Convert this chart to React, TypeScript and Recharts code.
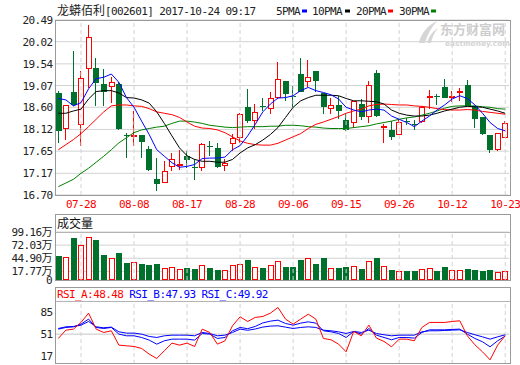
import { ComposedChart, Bar, Line, XAxis, YAxis, CartesianGrid, ReferenceLine } from 'recharts';

const dates = [
  '07-25', '07-26', '07-27', '07-28', '07-31', '08-01', '08-02', '08-03', '08-04', '08-07',
  '08-08', '08-09', '08-10', '08-11', '08-14', '08-15', '08-16', '08-17', '08-18', '08-21',
  '08-22', '08-23', '08-24', '08-25', '08-28', '08-29', '08-30', '08-31', '09-01', '09-04',
  '09-05', '09-06', '09-07', '09-08', '09-11', '09-12', '09-13', '09-14', '09-15', '09-18',
  '09-19', '09-20', '09-21', '09-22', '09-25', '09-26', '09-27', '09-28', '09-29', '10-09',
  '10-10', '10-11', '10-12', '10-13', '10-16', '10-17', '10-18', '10-19', '10-20', '10-23',
];

const opens = [
  18.91, 18.14, 18.94, 18.22, 19.42, 19.45, 19.10, 19.03, 19.10, 18.00,
  17.98, 17.99, 17.70, 17.04, 16.96, 17.30, 17.35, 17.54, 17.30, 17.28,
  17.76, 17.71, 17.32, 17.81, 17.94, 18.60, 18.30, 18.63, 18.57, 18.81,
  19.17, 18.84, 19.31, 19.14, 19.38, 18.91, 18.57, 18.65, 18.32, 18.27,
  18.68, 18.38, 19.34, 18.18, 18.11, 18.00, 18.31, 18.24, 18.29, 18.82,
  18.85, 19.03, 18.83, 18.94, 19.08, 18.63, 18.38, 18.01, 17.67, 17.94,
];
const highs = [
  18.96, 18.65, 19.81, 19.38, 20.38, 19.67, 19.42, 19.25, 19.14, 18.05,
  18.52, 18.01, 17.76, 17.50, 17.43, 17.60, 17.68, 17.65, 17.47, 17.83,
  17.88, 17.83, 17.47, 18.03, 18.47, 18.99, 18.67, 18.81, 18.92, 19.59,
  19.17, 19.05, 19.67, 19.62, 19.39, 18.91, 18.79, 18.85, 18.45, 18.73,
  18.78, 19.16, 19.41, 18.23, 18.30, 18.34, 18.37, 18.32, 18.63, 18.97,
  18.88, 19.21, 18.96, 19.01, 19.18, 18.63, 18.38, 18.01, 18.05, 18.30,
];
const lows = [
  17.83, 17.90, 18.63, 17.77, 19.01, 18.63, 18.63, 18.70, 18.11, 17.50,
  17.77, 17.50, 17.23, 16.79, 16.96, 17.21, 17.25, 17.28, 17.03, 17.23,
  17.54, 17.28, 17.21, 17.65, 17.83, 18.27, 18.12, 18.52, 18.45, 18.77,
  18.74, 18.61, 18.92, 19.03, 18.92, 18.45, 18.45, 18.34, 18.09, 18.16,
  18.32, 18.27, 18.38, 17.83, 17.90, 18.00, 18.22, 18.10, 18.26, 18.56,
  18.65, 18.79, 18.72, 18.74, 18.62, 18.16, 18.01, 17.61, 17.65, 17.94,
];
const closes = [
  18.09, 18.65, 18.65, 19.23, 20.12, 19.13, 18.94, 19.14, 18.14, 17.99,
  18.00, 17.85, 17.25, 16.93, 17.21, 17.48, 17.37, 17.45, 17.29, 17.81,
  17.75, 17.30, 17.39, 17.94, 18.45, 18.30, 18.49, 18.61, 18.79, 19.22,
  18.89, 18.82, 18.94, 19.25, 19.16, 18.60, 18.65, 18.51, 18.11, 18.73,
  18.38, 19.09, 18.41, 18.19, 17.96, 18.29, 18.29, 18.22, 18.61, 18.84,
  18.83, 18.79, 18.85, 18.96, 18.63, 18.34, 18.03, 17.68, 18.05, 18.27,
];

// 成交量, 万股
const volumes = [
  49.6, 46.8, 86.8, 71.6, 88.2, 82.6, 51.7, 44.8, 55.8, 35.1,
  36.5, 33.1, 31.0, 33.1, 24.1, 26.2, 22.0, 24.8, 22.7, 30.3,
  24.8, 20.7, 20.7, 30.3, 33.1, 41.3, 26.2, 24.1, 30.3, 38.6,
  26.9, 26.9, 41.3, 44.8, 33.1, 45.5, 24.1, 24.8, 26.9, 28.2,
  22.7, 38.6, 45.5, 28.2, 20.7, 18.6, 18.6, 18.6, 22.0, 24.1,
  18.6, 26.9, 20.7, 20.7, 22.7, 20.7, 18.6, 20.7, 16.5, 18.6,
];

const ma5 = [
  18.79, 18.76, 18.63, 18.70, 19.00, 19.22, 19.25, 19.32, 19.14, 18.81,
  18.60, 18.30, 18.01, 17.68, 17.54, 17.40, 17.30, 17.32, 17.36, 17.49,
  17.50, 17.50, 17.52, 17.68, 17.77, 17.98, 18.23, 18.50, 18.67, 18.80,
  18.81, 18.85, 18.96, 19.03, 18.96, 18.92, 18.87, 18.78, 18.60, 18.54,
  18.50, 18.54, 18.56, 18.54, 18.41, 18.34, 18.27, 18.18, 18.30, 18.41,
  18.54, 18.65, 18.78, 18.85, 18.79, 18.65, 18.47, 18.27, 18.14, 18.09,
];
const ma10 = [
  18.47, 18.47, 18.52, 18.56, 18.78, 18.94, 18.96, 18.96, 18.91, 18.81,
  18.80, 18.76, 18.69, 18.50, 18.25, 17.98, 17.72, 17.55, 17.47, 17.43,
  17.43, 17.41, 17.41, 17.47, 17.61, 17.72, 17.79, 17.89, 18.01, 18.16,
  18.38, 18.60, 18.74, 18.81, 18.86, 18.86, 18.86, 18.85, 18.79, 18.74,
  18.74, 18.73, 18.72, 18.67, 18.54, 18.47, 18.43, 18.41, 18.41, 18.43,
  18.47, 18.52, 18.56, 18.60, 18.62, 18.61, 18.60, 18.56, 18.52, 18.47,
];
const ma20 = [
  17.68, 17.79, 17.90, 18.03, 18.18, 18.34, 18.50, 18.63, 18.65, 18.65,
  18.63, 18.62, 18.57, 18.50, 18.47, 18.44, 18.38, 18.28, 18.19, 18.15,
  18.14, 18.11, 18.05, 17.96, 17.87, 17.82, 17.79, 17.78, 17.78, 17.82,
  17.89, 17.96, 18.03, 18.14, 18.23, 18.28, 18.34, 18.40, 18.47, 18.52,
  18.56, 18.63, 18.66, 18.67, 18.66, 18.65, 18.65, 18.63, 18.62, 18.60,
  18.57, 18.55, 18.54, 18.54, 18.55, 18.54, 18.51, 18.49, 18.47, 18.45,
];
const ma30 = [
  16.88, 16.96, 17.04, 17.17, 17.28, 17.41, 17.54, 17.68, 17.83, 17.94,
  18.05, 18.11, 18.14, 18.17, 18.19, 18.25, 18.30, 18.30, 18.28, 18.25,
  18.21, 18.19, 18.17, 18.16, 18.17, 18.18, 18.18, 18.18, 18.19, 18.19,
  18.21, 18.21, 18.20, 18.18, 18.17, 18.15, 18.14, 18.14, 18.14, 18.16,
  18.18, 18.20, 18.24, 18.27, 18.30, 18.34, 18.37, 18.39, 18.43, 18.47,
  18.52, 18.58, 18.62, 18.63, 18.63, 18.63, 18.61, 18.60, 18.57, 18.56,
];

const rsiA = [
  44.3, 57.2, 58.8, 69.2, 83.7, 58.8, 53.6, 56.2, 33.9, 32.8,
  31.8, 28.7, 19.9, 13.1, 25.1, 37.0, 33.9, 37.0, 31.8, 58.8,
  53.6, 35.4, 40.6, 64.0, 78.0, 70.7, 77.0, 78.5, 83.7, 92.5,
  74.4, 66.6, 74.4, 82.1, 74.4, 44.3, 42.2, 35.4, 23.5, 55.2,
  48.4, 65.0, 44.8, 39.6, 31.3, 43.2, 43.2, 40.6, 61.4, 69.2,
  69.2, 69.2, 70.7, 71.8, 48.4, 34.4, 23.5, 11.0, 33.9, 48.48,
];
const rsiB = [
  58.8, 61.4, 62.4, 66.6, 74.4, 61.4, 59.8, 61.4, 51.0, 48.4,
  48.4, 45.8, 41.7, 35.4, 40.6, 43.2, 43.2, 43.2, 41.7, 52.0,
  51.0, 44.3, 45.8, 56.2, 61.4, 59.5, 63.0, 68.5, 71.2, 72.8,
  67.6, 65.0, 68.1, 70.2, 68.1, 56.2, 54.6, 52.0, 45.8, 55.2,
  51.0, 59.8, 49.4, 45.8, 42.2, 45.8, 45.8, 44.8, 53.6, 57.7,
  57.7, 57.7, 58.3, 58.8, 51.0, 44.3, 39.1, 31.3, 40.6, 47.93,
];
const rsiC = [
  59.8, 62.4, 62.9, 65.0, 70.7, 62.4, 60.9, 61.9, 54.6, 52.6,
  52.6, 51.0, 47.4, 45.8, 48.4, 49.4, 49.4, 49.4, 48.4, 53.6,
  52.0, 48.4, 49.4, 53.6, 58.8, 57.0, 59.0, 62.0, 63.5, 64.0,
  61.9, 59.8, 61.4, 62.4, 61.4, 57.2, 56.2, 54.6, 52.0, 55.2,
  53.6, 57.2, 52.0, 50.0, 48.4, 49.4, 49.4, 49.4, 54.6, 56.2,
  56.2, 56.7, 57.2, 57.7, 53.6, 50.0, 46.8, 43.2, 46.8, 49.92,
];

const labelDates = ['07-28', '08-08', '08-17', '08-28', '09-06', '09-15', '09-26', '10-12', '10-23'];
const priceTicks = [16.70, 17.17, 17.65, 18.12, 18.60, 19.07, 19.54, 20.02, 20.49];
const volTicks = [0, 17.77, 44.90, 72.03, 99.16];
const rsiTicks = [17, 51, 85];

const UP = '#ff0000';
const DOWN = '#00702d';
const GRID = '#d2d2d2';
const BORDER = '#9a9a9a';
const MONO = "'DejaVu Sans Mono', monospace";
const CJK = "'Noto Sans CJK SC', sans-serif";

const rows = dates.map((date, i) => ({
  date,
  open: opens[i],
  high: highs[i],
  low: lows[i],
  close: closes[i],
  hl: [lows[i], highs[i]],
  up: closes[i] >= opens[i],
  vol: volumes[i],
  ma5: ma5[i],
  ma10: ma10[i],
  ma20: ma20[i],
  ma30: ma30[i],
  rsiA: rsiA[i],
  rsiB: rsiB[i],
  rsiC: rsiC[i],
}));

function renderCandle(props: any) {
  const { x, y, width, height, payload } = props;
  if (!payload || x == null || y == null) return <g />;
  const top = Math.min(y, y + height);
  const bot = Math.max(y, y + height);
  const span = payload.high - payload.low;
  const py = (v: number) => (span > 0 ? top + ((payload.high - v) / span) * (bot - top) : top);
  const bx = Math.round(x + width / 2 - 3);
  const wx = bx + 2.5;
  const yo = py(payload.open);
  const yc = py(payload.close);
  const b0 = Math.round(Math.min(yo, yc));
  const b1 = Math.round(Math.max(yo, yc));
  const color = payload.up ? UP : DOWN;
  const wick = <line x1={wx} x2={wx} y1={Math.round(top)} y2={Math.round(bot)} stroke={color} />;
  if (b1 - b0 < 1) {
    return (
      <g>
        {wick}
        <line x1={bx} x2={bx + 6} y1={b0 + 0.5} y2={b0 + 0.5} stroke={color} />
      </g>
    );
  }
  if (payload.up) {
    return (
      <g>
        {wick}
        <rect x={bx + 0.5} y={b0 + 0.5} width={5} height={Math.max(b1 - b0 - 1, 1)} fill="#fff" stroke={color} />
      </g>
    );
  }
  return (
    <g>
      {wick}
      <rect x={bx} y={b0} width={6} height={b1 - b0} fill={color} />
    </g>
  );
}

function renderVol(props: any) {
  const { x, y, width, height, payload } = props;
  if (!payload || x == null || y == null) return <g />;
  const bx = Math.round(x + width / 2 - 3);
  const t = Math.round(Math.min(y, y + height));
  const b = Math.round(Math.max(y, y + height));
  if (payload.up) {
    return <rect x={bx + 0.5} y={t + 0.5} width={5} height={Math.max(b - t - 1, 1)} fill="#fff" stroke={UP} />;
  }
  return <rect x={bx} y={t} width={6} height={b - t} fill={DOWN} />;
}

function XTick(props: any) {
  const { x, y, payload } = props;
  if (!labelDates.includes(payload.value)) return <g />;
  return (
    <text x={x} y={y + 13} textAnchor="middle" fontFamily={MONO} fontSize={11} letterSpacing={-0.6} fill={UP}>
      {payload.value}
    </text>
  );
}

function PriceTick(props: any) {
  const { x, y, payload } = props;
  return (
    <text x={x} y={y + 4} textAnchor="end" fontFamily={MONO} fontSize={11} letterSpacing={-0.6} fill="#222">
      {Number(payload.value).toFixed(2)}
    </text>
  );
}

function VolTick(props: any) {
  const { x, y, payload } = props;
  const v = Number(payload.value);
  return (
    <text x={x} y={y + 4} textAnchor="end" fill="#222">
      {v === 0 ? (
        <tspan fontFamily={MONO} fontSize={11}>0</tspan>
      ) : (
        <>
          <tspan fontFamily={MONO} fontSize={11} letterSpacing={-0.6}>{v.toFixed(2)}</tspan>
          <tspan fontFamily={CJK} fontSize={11}>万</tspan>
        </>
      )}
    </text>
  );
}

function RsiTick(props: any) {
  const { x, y, payload } = props;
  return (
    <text x={x} y={y + 4} textAnchor="end" fontFamily={MONO} fontSize={11} letterSpacing={-0.6} fill="#222">
      {payload.value}
    </text>
  );
}

const margin = { top: 0, right: 11, bottom: 0, left: 0 };

function vLines() {
  return labelDates.map((d) => (
    <ReferenceLine key={d} x={d} stroke={GRID} strokeDasharray="4 3" />
  ));
}

export default function App() {
  return (
    <div style={{ position: 'absolute', left: 0, top: 0, width: 520, height: 365, background: '#fff', overflow: 'hidden' }}>
      <div style={{ position: 'absolute', left: 0, top: 0 }}>
        <ComposedChart width={520} height={215} data={rows} margin={{ ...margin, top: 20 }}>
          <CartesianGrid vertical={false} stroke={GRID} />
          {vLines()}
          <XAxis dataKey="date" scale="band" interval={0} axisLine={false} tickLine={false} tickSize={0} tickMargin={0} height={20} tick={(p: any) => <XTick {...p} />} />
          <YAxis domain={[16.7, 20.49]} ticks={priceTicks} interval={0} width={54.5} axisLine={false} tickLine={false} tickSize={0} tickMargin={2} allowDataOverflow tick={(p: any) => <PriceTick {...p} />} />
          <Bar dataKey="hl" barSize={6} shape={renderCandle} isAnimationActive={false} />
          <Line type="linear" dataKey="ma30" stroke="#008000" strokeWidth={1} dot={false} activeDot={false} isAnimationActive={false} />
          <Line type="linear" dataKey="ma20" stroke="#ff0000" strokeWidth={1} dot={false} activeDot={false} isAnimationActive={false} />
          <Line type="linear" dataKey="ma10" stroke="#000000" strokeWidth={1} dot={false} activeDot={false} isAnimationActive={false} />
          <Line type="linear" dataKey="ma5" stroke="#0000ff" strokeWidth={1} dot={false} activeDot={false} isAnimationActive={false} />
        </ComposedChart>
      </div>

      <div style={{ position: 'absolute', left: 0, top: 214 }}>
        <ComposedChart width={520} height={72} data={rows} margin={{ ...margin, top: 18, bottom: 6 }}>
          <CartesianGrid vertical={false} stroke={GRID} />
          {vLines()}
          <XAxis dataKey="date" scale="band" hide />
          <YAxis domain={[0, 99.16]} ticks={volTicks} interval={0} width={54.5} axisLine={false} tickLine={false} tickSize={0} tickMargin={2} tick={(p: any) => <VolTick {...p} />} />
          <Bar dataKey="vol" barSize={6} shape={renderVol} isAnimationActive={false} />
        </ComposedChart>
      </div>

      <div style={{ position: 'absolute', left: 0, top: 288 }}>
        <ComposedChart width={520} height={76} data={rows} margin={{ ...margin, top: 13 }}>
          <ReferenceLine y={51} stroke="#c4c4c4" />
          {vLines()}
          <XAxis dataKey="date" scale="band" hide />
          <YAxis domain={[4.5, 102.6]} ticks={rsiTicks} interval={0} width={54.5} axisLine={false} tickLine={false} tickSize={0} tickMargin={2} allowDataOverflow tick={(p: any) => <RsiTick {...p} />} />
          <Line type="linear" dataKey="rsiC" stroke="#0000ff" strokeWidth={1} dot={false} activeDot={false} isAnimationActive={false} />
          <Line type="linear" dataKey="rsiB" stroke="#0000ff" strokeWidth={1} dot={false} activeDot={false} isAnimationActive={false} />
          <Line type="linear" dataKey="rsiA" stroke="#ff0000" strokeWidth={1} dot={false} activeDot={false} isAnimationActive={false} />
        </ComposedChart>
      </div>

      <svg width={520} height={365} style={{ position: 'absolute', left: 0, top: 0, pointerEvents: 'none' }}>
        {/* watermark */}
        <path d="M419 43 C 421 33, 428 25, 437 21 C 431 28, 427 35, 425 43 Z" fill="#d6d6d6" />
        <path d="M427 43 C 429 36, 433 31, 438 28 C 434 33, 432 38, 431 43 Z" fill="#d6d6d6" />
        <text x={440} y={34} fontFamily={CJK} fontSize={13} fontWeight="bold" fill="#cdcdcd">东方财富网</text>
        <text x={445} y={46} fontFamily="'DejaVu Sans', sans-serif" fontSize={7} fontWeight="bold" fill="#d4d4d4" textLength={65} lengthAdjust="spacingAndGlyphs">eastmoney.com</text>

        {/* title */}
        <text x={57} y={15} fill="#222">
          <tspan fontFamily={CJK} fontSize={12}>龙蟒佰利</tspan>
          <tspan fontFamily={MONO} fontSize={11} letterSpacing={-0.6}>[002601] 2017-10-24 09:17</tspan>
        </text>

        {/* legend */}
        <g fontFamily={MONO} fontSize={11} letterSpacing={-0.6} fill="#222">
          <text x={276} y={15}>5PMA</text>
          <text x={312} y={15}>10PMA</text>
          <text x={356} y={15}>20PMA</text>
          <text x={399} y={15}>30PMA</text>
        </g>
        <rect x={302} y={9.5} width={5} height={3} fill="#0000ff" />
        <rect x={345} y={9.5} width={5} height={3} fill="#000000" />
        <rect x={388} y={9.5} width={5} height={3} fill="#ff0000" />
        <rect x={431} y={9.5} width={5} height={3} fill="#008000" />

        {/* panel frames */}
        <rect x={55.5} y={20.5} width={455} height={175} fill="none" stroke={BORDER} />
        <rect x={55.5} y={214.5} width={455} height={66} fill="none" stroke={BORDER} />
        <line x1={56} x2={510} y1={232.5} y2={232.5} stroke="#b4b4b4" />
        <rect x={55.5} y={287.5} width={455} height={76} fill="none" stroke={BORDER} />
        <line x1={56} x2={510} y1={301.5} y2={301.5} stroke="#b4b4b4" />

        {/* panel headers */}
        <text x={57} y={228} fontFamily={CJK} fontSize={12} fill="#111">成交量</text>
        <text x={57} y={297.5} fontFamily={MONO} fontSize={11} letterSpacing={-0.6}>
          <tspan fill="#ff0000">RSI_A:48.48</tspan>
          <tspan fill="#0000ff"> RSI_B:47.93</tspan>
          <tspan fill="#0000ff"> RSI_C:49.92</tspan>
        </text>
      </svg>
    </div>
  );
}
